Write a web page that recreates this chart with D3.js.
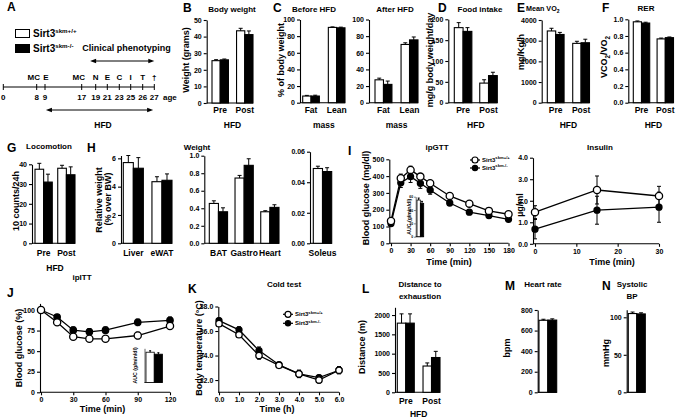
<!DOCTYPE html>
<html><head><meta charset="utf-8">
<script src="https://cdn.jsdelivr.net/npm/d3@7"></script>
<style>
body{margin:0;background:#fff}
svg{display:block}
text{font-family:"Liberation Sans",Arial,Helvetica,sans-serif;font-weight:bold;fill:#000}
</style>
</head><body>
<script>
// ---------------- DATA ----------------
// A: timeline
const tlWeeks = [0, 8, 9, 17, 19, 21, 23, 25, 26, 27];
const tlTop = ["", "MC", "E", "MC", "N", "E", "C", "I", "T", "\u2020"];
const tlPix = [3.3, 36.7, 45, 81.7, 95.7, 107.3, 119.3, 130.7, 142.7, 154.3];
// B body weight
const bCats = ["Pre", "Post"];
const bWT = [25.5, 43.5], bWTe = [0.6, 1.5];
const bKO = [26, 41.2], bKOe = [0.5, 2.2];
// C body composition
const cCats = ["Fat", "Lean"];
const cBeforeWT = [8, 90.5], cBeforeWTe = [0.8, 0.6];
const cBeforeKO = [8, 90], cBeforeKOe = [1.0, 0.8];
const cAfterWT = [27.5, 70], cAfterWTe = [2, 2];
const cAfterKO = [22, 75.5], cAfterKOe = [4, 3.5];
// D food intake
const dWT = [180, 47], dWTe = [12, 8];
const dKO = [171, 65], dKOe = [9, 8];
// E VO2
const eWT = [3470, 2870], eWTe = [130, 100];
const eKO = [3300, 2900], eKOe = [100, 170];
// F RER
const fWT = [0.97, 0.765], fWTe = [0.01, 0.01];
const fKO = [0.955, 0.78], fKOe = [0.01, 0.008];
// G locomotion
const gWT = [37.5, 38], gWTe = [3, 1.5];
const gKO = [31, 34.7], gKOe = [4, 4];
// H tissue weights
const h1Cats = ["Liver", "eWAT"];
const h1WT = [5.7, 4.35], h1WTe = [0.5, 0.35];
const h1KO = [5.3, 4.45], h1KOe = [0.75, 0.45];
const h2Cats = ["BAT", "Gastro", "Heart"];
const h2WT = [0.455, 0.745, 0.36], h2WTe = [0.03, 0.03, 0.012];
const h2KO = [0.36, 0.89, 0.41], h2KOe = [0.045, 0.075, 0.03];
const h3Cats = ["Soleus"];
const h3WT = [0.049], h3WTe = [0.0015];
const h3KO = [0.047], h3KOe = [0.0025];
// I ipGTT
const gttT = [0, 15, 30, 45, 60, 90, 120, 150, 180];
const gttWT = [133, 387, 437, 397, 357, 282, 236, 193, 173];
const gttWTe = [12, 25, 22, 18, 15, 15, 12, 10, 10];
const gttKO = [118, 360, 397, 357, 317, 240, 185, 165, 143];
const gttKOe = [10, 28, 35, 30, 25, 15, 10, 12, 10];
const gttAUC = [55, 50];
// I insulin
const insT = [0, 15, 30];
const insWT = [1.47, 2.5, 2.22], insWTe = [0.3, 0.65, 0.45];
const insKO = [0.68, 1.56, 1.7], insKOe = [0.45, 0.65, 0.7];
// J ipITT
const ittT = [0, 15, 30, 45, 60, 90, 120];
const ittWT = [100, 85, 67.5, 65, 65, 69, 80.5], ittWTe = [1, 2, 3, 3, 3, 4, 4];
const ittKO = [100, 91.5, 75.5, 73.5, 75.5, 85, 87.5], ittKOe = [1, 2, 4, 4, 4, 4, 4];
const ittAUC = [62, 58];
// K cold test
const coldT = [0, 1, 2, 3, 4, 5, 6];
const coldWT = [36.6, 35.7, 34.0, 33.2, 32.5, 32.0, 32.8], coldWTe = [0.2, 0.2, 0.3, 0.15, 0.3, 0.25, 0.3];
const coldKO = [36.85, 36.1, 34.4, 33.25, 32.5, 32.2, 32.8], coldKOe = [0.2, 0.25, 0.3, 0.15, 0.3, 0.2, 0.25];
// L distance
const lWT = [1790, 680], lWTe = [240, 80];
const lKO = [1790, 900], lKOe = [240, 160];
// M heart rate, N systolic BP
const mWT = [700], mWTe = [10], mKO = [702], mKOe = [12];
const nWT = [105], nWTe = [2], nKO = [104.5], nKOe = [1.5];

// ---------------- DRAWING ----------------
const svg = d3.select("body").append("svg").attr("width", 677).attr("height", 420);
const TICK_FS = 7;
const SW = 1.1;

function txt(x, y, s, o = {}) {
  const t = svg.append("text").attr("x", x).attr("y", y)
    .attr("font-size", o.fs || 8).attr("text-anchor", o.anchor || "middle").text(s);
  if (o.rot) t.attr("transform", `rotate(-90,${x},${y})`);
  return t;
}
function rich(x, y, parts, o = {}) {
  const fs = o.fs || 8;
  const t = svg.append("text").attr("x", x).attr("y", y)
    .attr("font-size", fs).attr("text-anchor", o.anchor || "middle");
  if (o.rot) t.attr("transform", `rotate(-90,${x},${y})`);
  let cur = 0;
  parts.forEach(([s, k]) => {
    const off = k === "sup" ? -fs * 0.45 : k === "sub" ? fs * 0.3 : 0;
    t.append("tspan").attr("dy", off - cur).attr("font-size", k ? fs * (o.small || 0.7) : fs).text(s);
    cur = off;
  });
  return t;
}
function styleAxis(ga, fs) {
  ga.attr("font-family", null).attr("font-size", fs || TICK_FS);
  ga.selectAll("path,line").attr("stroke", "#000").attr("stroke-width", SW);
}
function errBar(g, x, y1, y2, cap) {
  g.append("line").attr("x1", x).attr("x2", x).attr("y1", y1).attr("y2", y2).attr("stroke", "#000");
  g.append("line").attr("x1", x - cap / 2).attr("x2", x + cap / 2).attr("y1", y2).attr("y2", y2).attr("stroke", "#000");
}

function barPanel(o) {
  const y = d3.scaleLinear().domain(o.dom).range(o.yr);
  const x = d3.scaleBand().domain(o.cats).range(o.xr).paddingInner(o.pad ?? 0.33).paddingOuter(0);
  const s = d3.scaleBand().domain(["wt", "ko"]).range([0, x.bandwidth()]);
  const g = svg.append("g");
  const ga = g.append("g").attr("transform", `translate(${o.ax},0)`)
    .call(d3.axisLeft(y).tickValues(o.ticks).tickFormat(o.fmt || d3.format("d")).tickSize(3).tickPadding(2).tickSizeOuter(0));
  styleAxis(ga, o.tfs);
  g.append("line").attr("x1", o.ax).attr("x2", o.xr[1]).attr("y1", y(0)).attr("y2", y(0)).attr("stroke", "#000").attr("stroke-width", SW);
  o.cats.forEach((c, i) => {
    [["wt", o.wt, o.wte, "#fff"], ["ko", o.ko, o.koe, "#000"]].forEach(([k, v, e, f]) => {
      const bx = x(c) + s(k), bw = s.bandwidth();
      g.append("rect").attr("x", bx).attr("y", y(v[i])).attr("width", bw).attr("height", y(0) - y(v[i]))
        .attr("fill", f).attr("stroke", "#000").attr("stroke-width", SW);
      errBar(g, bx + bw / 2, y(v[i]), y(v[i] + e[i]), o.cap || 4);
    });
    if (!o.noCat) txt(x(c) + x.bandwidth() / 2, o.catY, c, { fs: o.cfs || 8.5 });
  });
  if (o.group) txt((x(o.cats[0]) + x(o.cats[o.cats.length - 1]) + x.bandwidth()) / 2, o.groupY, o.group, { fs: 8.5 });
  return { x, y };
}

function linePanel(o) {
  const x = d3.scaleLinear().domain(o.xd).range(o.xr);
  const y = d3.scaleLinear().domain(o.yd).range(o.yr);
  const g = svg.append("g");
  const ga = g.append("g").attr("transform", `translate(${o.yax},0)`)
    .call(d3.axisLeft(y).tickValues(o.yt).tickSize(3).tickPadding(2).tickSizeOuter(0));
  styleAxis(ga);
  const gb = g.append("g").attr("transform", `translate(0,${o.yr[0]})`)
    .call(d3.axisBottom(x).tickValues(o.xt).tickSize(3).tickPadding(2).tickSizeOuter(0));
  styleAxis(gb);
  gb.select(".domain").remove();
  g.append("line").attr("x1", o.yax).attr("x2", o.xr[1]).attr("y1", o.yr[0]).attr("y2", o.yr[0]).attr("stroke", "#000").attr("stroke-width", SW);
  const line = d3.line().x(d => x(d[0])).y(d => y(d[1]));
  o.series.forEach(sr => {
    g.append("path").datum(o.t.map((t, i) => [t, sr.v[i]])).attr("d", line)
      .attr("fill", "none").attr("stroke", "#000").attr("stroke-width", 1.3);
  });
  o.series.forEach(sr => {
    o.t.forEach((t, i) => {
      const cx = x(t);
      g.append("line").attr("x1", cx).attr("x2", cx).attr("y1", y(sr.v[i] - sr.e[i])).attr("y2", y(sr.v[i] + sr.e[i])).attr("stroke", "#000");
      [sr.v[i] - sr.e[i], sr.v[i] + sr.e[i]].forEach(vv =>
        g.append("line").attr("x1", cx - 2).attr("x2", cx + 2).attr("y1", y(vv)).attr("y2", y(vv)).attr("stroke", "#000"));
    });
  });
  o.series.forEach(sr => {
    o.t.forEach((t, i) => {
      g.append("circle").attr("cx", x(t)).attr("cy", y(sr.v[i])).attr("r", sr.open ? o.ro : o.rf)
        .attr("fill", sr.open ? "#fff" : "#000").attr("stroke", "#000").attr("stroke-width", 1.3);
    });
  });
  return { x, y };
}

function inset(o) {
  const y = d3.scaleLinear().domain(o.dom).range(o.yr);
  const x = d3.scaleBand().domain(["wt", "ko"]).range(o.xr);
  const g = svg.append("g");
  const ga = g.append("g").attr("transform", `translate(${o.ax},0)`)
    .call(d3.axisLeft(y).tickValues(o.ticks).tickSize(1.5).tickPadding(1).tickSizeOuter(0));
  styleAxis(ga, 3.5);
  ga.selectAll("path,line").attr("stroke-width", 0.6);
  g.append("line").attr("x1", o.ax).attr("x2", o.xr[1]).attr("y1", y(0)).attr("y2", y(0)).attr("stroke", "#000").attr("stroke-width", 0.8);
  [["wt", o.v[0], "#fff"], ["ko", o.v[1], "#000"]].forEach(([k, v, f]) => {
    g.append("rect").attr("x", x(k)).attr("y", y(v)).attr("width", x.bandwidth()).attr("height", y(0) - y(v))
      .attr("fill", f).attr("stroke", "#000").attr("stroke-width", 0.8);
    errBar(g, x(k) + x.bandwidth() / 2, y(v), y(v + o.e), 2);
  });
  txt(o.lx, (o.yr[0] + o.yr[1]) / 2, "AUC (g/min/dl)", { fs: 5.2, rot: true });
}

function legend(x, y, gap, fs) {
  [[true, "skm+/+"], [false, "skm-/-"]].forEach(([open, sup], i) => {
    const yy = y + i * gap;
    svg.append("line").attr("x1", x).attr("x2", x + 10).attr("y1", yy).attr("y2", yy).attr("stroke", "#000").attr("stroke-width", 1.2);
    svg.append("circle").attr("cx", x + 5).attr("cy", yy).attr("r", open ? 3 : 2.6)
      .attr("fill", open ? "#fff" : "#000").attr("stroke", "#000").attr("stroke-width", 1.2);
    rich(x + 12, yy + fs * 0.35, [["Sirt3"], [sup, "sup"]], { fs, anchor: "start" });
  });
}

function arrowLine(x1, x2, y) {
  svg.append("line").attr("x1", x1 + 4).attr("x2", x2 - 4).attr("y1", y).attr("y2", y).attr("stroke", "#000").attr("stroke-width", 1);
  svg.append("path").attr("d", `M${x1},${y}l6,-2.3v4.6z`).attr("fill", "#000");
  svg.append("path").attr("d", `M${x2},${y}l-6,-2.3v4.6z`).attr("fill", "#000");
}

// ---- Panel letters ----
[["A", 7, 11], ["B", 183, 12], ["C", 273, 12], ["D", 438, 12], ["E", 517, 12], ["F", 602, 12],
 ["G", 7, 152], ["H", 87, 152], ["I", 348, 155], ["J", 7, 297], ["K", 188, 293], ["L", 362, 293],
 ["M", 505, 290], ["N", 602, 290]].forEach(([l, x, y]) => txt(x, y, l, { fs: 12, anchor: "start" }));

// ---- A ----
svg.append("rect").attr("x", 15.5).attr("y", 29.5).attr("width", 14).attr("height", 8).attr("fill", "#fff").attr("stroke", "#000");
svg.append("rect").attr("x", 15.5).attr("y", 44.5).attr("width", 14).attr("height", 8).attr("fill", "#000").attr("stroke", "#000");
rich(33, 37, [["Sirt3"], ["skm+/+", "sup"]], { fs: 10, anchor: "start", small: 0.62 });
rich(33, 52, [["Sirt3"], ["skm-/-", "sup"]], { fs: 10, anchor: "start", small: 0.62 });
const tl = d3.scaleLinear().domain(tlWeeks).range(tlPix);
txt(126.5, 51, "Clinical phenotyping", { fs: 9 });
arrowLine(tl(18.2), tl(27), 61);
svg.append("line").attr("x1", tl(0)).attr("x2", tl(27)).attr("y1", 87).attr("y2", 87).attr("stroke", "#000");
tlWeeks.forEach((w, i) => {
  svg.append("line").attr("x1", tl(w)).attr("x2", tl(w)).attr("y1", 84).attr("y2", 90).attr("stroke", "#000");
  txt(tl(w), 100, String(w), { fs: 8 });
  const shift = tlTop[i] === "MC" ? -3 : (w === 9 ? 0.8 : 0);
  if (tlTop[i]) txt(tl(w) + shift, 80, tlTop[i], { fs: 8 });
});
txt(163, 100, "age", { fs: 8, anchor: "start" });
arrowLine(tl(9.2), tl(26.9), 110);
txt(103, 128, "HFD", { fs: 8.5 });

// ---- B ----
barPanel({ cats: bCats, wt: bWT, wte: bWTe, ko: bKO, koe: bKOe, dom: [0, 50], yr: [103, 20], xr: [212, 253], pad: 0.33,
  ax: 206.7, ticks: [0, 10, 20, 30, 40, 50], catY: 112.5, group: "HFD", groupY: 128 });
txt(232, 12, "Body weight", { fs: 8 });
txt(189, 60, "Weight (grams)", { fs: 9, rot: true });

// ---- C ----
barPanel({ cats: cCats, wt: cBeforeWT, wte: cBeforeWTe, ko: cBeforeKO, koe: cBeforeKOe, dom: [0, 100], yr: [102.7, 19.5],
  xr: [302.7, 345], pad: 0.35, ax: 300, ticks: [0, 20, 40, 60, 80, 100], catY: 112.5, group: "mass", groupY: 128 });
barPanel({ cats: cCats, wt: cAfterWT, wte: cAfterWTe, ko: cAfterKO, koe: cAfterKOe, dom: [0, 100], yr: [102.7, 19.5],
  xr: [375, 418], pad: 0.35, ax: 369, ticks: [0, 20, 40, 60, 80, 100], catY: 112.5, group: "mass", groupY: 128 });
txt(314, 12, "Before HFD", { fs: 8 });
txt(395, 12, "After HFD", { fs: 8 });
txt(284, 60, "% of body weight", { fs: 9, rot: true });

// ---- D ----
barPanel({ cats: bCats, wt: dWT, wte: dWTe, ko: dKO, koe: dKOe, dom: [0, 200], yr: [102.7, 19.3], xr: [454.3, 497.3], pad: 0.31,
  ax: 448.3, ticks: [0, 50, 100, 150, 200], catY: 112.5, group: "HFD", groupY: 128 });
txt(480, 12, "Food intake", { fs: 8 });
txt(433, 60, "mg/g body weight/day", { fs: 9, rot: true });

// ---- E ----
barPanel({ cats: bCats, wt: eWT, wte: eWTe, ko: eKO, koe: eKOe, dom: [0, 4000], yr: [102.7, 20], xr: [547.3, 589.5], pad: 0.34,
  ax: 541.7, ticks: [0, 1000, 2000, 3000, 4000], catY: 112.5, group: "HFD", groupY: 128 });
rich(526, 10.5, [["Mean VO"], ["2", "sub"]], { fs: 7.2, anchor: "start" });
txt(523.5, 52, "mg/Kg/h", { fs: 9, rot: true });

// ---- F ----
barPanel({ cats: bCats, wt: fWT, wte: fWTe, ko: fKO, koe: fKOe, dom: [0, 1], yr: [102.7, 19.3], xr: [633.3, 673.5], pad: 0.31,
  ax: 628.3, ticks: [0, 0.2, 0.4, 0.6, 0.8, 1.0], fmt: d3.format(".1f"), catY: 112.5, group: "HFD", groupY: 128 });
txt(646, 11, "RER", { fs: 8 });
rich(607, 57, [["VCO"], ["2", "sub"], ["/VO"], ["2", "sub"]], { fs: 9, rot: true });

// ---- G ----
barPanel({ cats: bCats, wt: gWT, wte: gWTe, ko: gKO, koe: gKOe, dom: [0, 40], yr: [243.3, 164.3], xr: [35, 75], pad: 0.24,
  ax: 32, ticks: [0, 10, 20, 30, 40], catY: 256, group: "HFD", groupY: 271 });
txt(49, 149, "Locomotion", { fs: 8 });
txt(19, 201, "10  counts/24h", { fs: 9, rot: true });

// ---- H ----
barPanel({ cats: h1Cats, wt: h1WT, wte: h1WTe, ko: h1KO, koe: h1KOe, dom: [0, 6.2], yr: [243.3, 155.5], xr: [123.3, 172], pad: 0.3,
  ax: 121, ticks: [0, 2, 4, 6], catY: 256 });
barPanel({ cats: h2Cats, wt: h2WT, wte: h2WTe, ko: h2KO, koe: h2KOe, dom: [0, 1], yr: [243.3, 155.7], xr: [209.3, 279], pad: 0.29,
  ax: 204.3, ticks: [0, 0.2, 0.4, 0.6, 0.8, 1.0], fmt: d3.format(".1f"), catY: 256 });
barPanel({ cats: h3Cats, wt: h3WT, wte: h3WTe, ko: h3KO, koe: h3KOe, dom: [0, 0.06], yr: [243.3, 151.7], xr: [313.3, 331.7], pad: 0,
  ax: 310, ticks: [0, 0.02, 0.04, 0.06], fmt: d3.format(".2f"), catY: 256 });
txt(197, 150, "Weight", { fs: 8 });
txt(102, 200, "Relative weight", { fs: 9, rot: true });
txt(110.5, 199, "(% over BW)", { fs: 9, rot: true });

// ---- I ipGTT ----
linePanel({ t: gttT, xd: [0, 180], xr: [391, 508.5], yd: [0, 500], yr: [243.3, 159.3], yax: 389.3,
  xt: [0, 30, 60, 90, 120, 150, 180], yt: [0, 100, 200, 300, 400, 500], ro: 3.6, rf: 3,
  series: [{ v: gttKO, e: gttKOe, open: false }, { v: gttWT, e: gttWTe, open: true }] });
inset({ v: gttAUC, e: 3, dom: [0, 60], yr: [236.7, 196.7], xr: [417, 423.7], ax: 415.7, ticks: [0, 20, 40, 60], lx: 411 });
legend(470, 160, 8, 6);
txt(437, 150, "ipGTT", { fs: 8 });
txt(368.5, 198, "Blood glucose (mg/dl)", { fs: 9, rot: true });
txt(449, 265, "Time (min)", { fs: 9 });

// ---- I insulin ----
linePanel({ t: insT, xd: [0, 30], xr: [535, 659], yd: [0, 4], yr: [243.8, 157.7], yax: 533,
  xt: [0, 10, 20, 30], yt: [0, 1, 2, 3, 4], ro: 3.6, rf: 3,
  series: [{ v: insKO, e: insKOe, open: false }, { v: insWT, e: insWTe, open: true }] });
txt(600, 150, "Insulin", { fs: 8 });
txt(522.5, 205, "\u00b5g/ml", { fs: 9, rot: true });
txt(612, 265, "Time (min)", { fs: 9 });

// ---- J ipITT ----
linePanel({ t: ittT, xd: [0, 120], xr: [41, 170], yd: [0, 108], yr: [392.3, 303.4], yax: 40,
  xt: [0, 30, 60, 90, 120], yt: [0, 25, 50, 75, 100], ro: 3.6, rf: 3.2,
  series: [{ v: ittKO, e: ittKOe, open: false }, { v: ittWT, e: ittWTe, open: true }] });
inset({ v: ittAUC, e: 3, dom: [0, 70], yr: [382.5, 348.3], xr: [146, 162.5], ax: 144.5, ticks: [], lx: 137.5 });
txt(82, 280, "ipITT", { fs: 8 });
txt(22, 348, "Blood glucose (%)", { fs: 9, rot: true });
txt(102.5, 412, "Time (min)", { fs: 9 });

// ---- K cold test ----
linePanel({ t: coldT, xd: [0, 6], xr: [219, 339], yd: [31, 38], yr: [392.3, 306.5], yax: 218.3,
  xt: [0, 1, 2, 3, 4, 5, 6], yt: [32, 34, 36, 38], ro: 3.2, rf: 3,
  series: [{ v: coldKO, e: coldKOe, open: false }, { v: coldWT, e: coldWTe, open: true }] });
legend(283, 314.3, 9, 6);
txt(284, 287, "Cold test", { fs: 8 });
txt(202, 348, "Body temperature (\u00b0C)", { fs: 9, rot: true });
txt(277, 412, "Time (h)", { fs: 9 });

// ---- L ----
barPanel({ cats: bCats, wt: lWT, wte: lWTe, ko: lKO, koe: lKOe, dom: [0, 2200], yr: [392.3, 307.3], xr: [397.3, 440], pad: 0.34,
  ax: 395, ticks: [0, 500, 1000, 1500, 2000], catY: 404, group: "HFD", groupY: 417 });
txt(420, 287, "Distance to", { fs: 8 });
txt(420, 298.5, "exhaustion", { fs: 8 });
txt(365, 347, "Distance (m)", { fs: 9, rot: true });

// ---- M ----
barPanel({ cats: ["HR"], wt: mWT, wte: mWTe, ko: mKO, koe: mKOe, dom: [0, 800], yr: [392.3, 310], xr: [539, 556.7], pad: 0,
  ax: 537.7, ticks: [0, 200, 400, 600, 800], noCat: true });
txt(543, 287, "Heart rate", { fs: 8 });
txt(510, 348, "bpm", { fs: 9, rot: true });

// ---- N ----
barPanel({ cats: ["BP"], wt: nWT, wte: nWTe, ko: nKO, koe: nKOe, dom: [0, 110], yr: [392.3, 309.8], xr: [628.3, 645.3], pad: 0,
  ax: 626.7, ticks: [0, 50, 100], noCat: true });
txt(632, 287, "Systolic", { fs: 8 });
txt(632, 299, "BP", { fs: 8 });
txt(609, 353, "mmHg", { fs: 9, rot: true });
</script>
</body></html>
